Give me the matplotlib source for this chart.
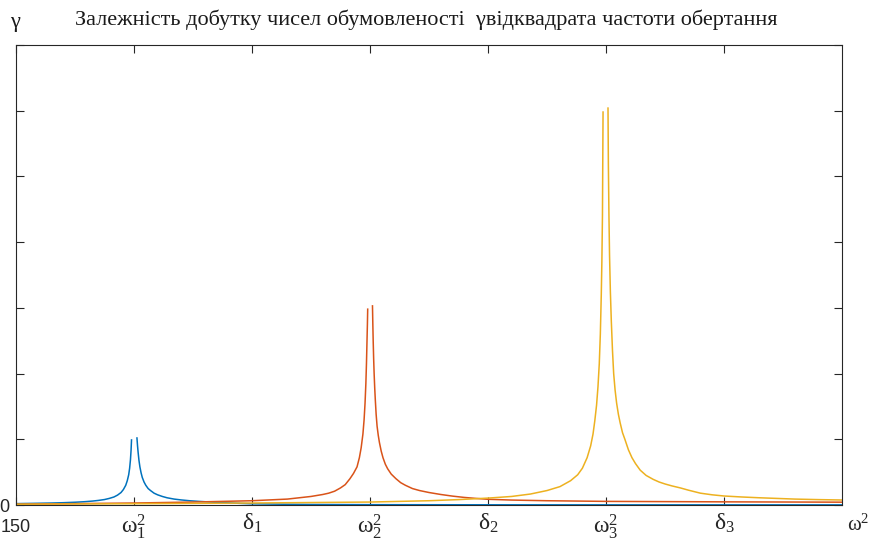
import numpy as np
import matplotlib.pyplot as plt

# Залежність добутку чисел обумовленості від квадрата частоти обертання
# значення (x у поділках осі, NaN - розрив у резонансі)

blue_x = [0.0, 0.15, 0.3, 0.4, 0.5, 0.58, 0.65, 0.7, 0.75, 0.79, 0.83, 0.86, 0.89,
          0.91, 0.93, 0.943, 0.955, 0.963, 0.97, 0.975, 0.979, 1.0,
          1.025, 1.03, 1.035, 1.042, 1.05, 1.06, 1.07, 1.085, 1.1, 1.12, 1.14, 1.17,
          1.2, 1.24, 1.28, 1.34, 1.4, 1.47, 1.55, 1.65, 1.75, 1.87, 2.0, 2.25, 2.5,
          3.0, 4.0, 5.0, 6.0, 7.0]
blue_y = [0.021, 0.025, 0.03, 0.035, 0.042, 0.05, 0.06, 0.07, 0.083, 0.1, 0.122, 0.15, 0.19,
          0.235, 0.30, 0.37, 0.46, 0.56, 0.69, 0.83, 0.99, np.nan,
          1.02, 0.9, 0.8, 0.68, 0.58, 0.49, 0.42, 0.35, 0.3, 0.25, 0.22, 0.18,
          0.155, 0.13, 0.11, 0.09, 0.077, 0.065, 0.055, 0.045, 0.036, 0.027, 0.018, 0.012, 0.008,
          0.005, 0.003, 0.002, 0.002, 0.002]

red_x = [0.0, 1.0, 1.5, 2.0, 2.3, 2.5, 2.6, 2.65, 2.7, 2.75, 2.79, 2.83, 2.86, 2.89,
         2.91, 2.925, 2.94, 2.95, 2.958, 2.965, 2.97, 2.974, 2.978, 2.9805, 3.0,
         3.021, 3.024, 3.027, 3.031, 3.035, 3.04, 3.045, 3.052, 3.06, 3.07, 3.08,
         3.095, 3.11, 3.13, 3.15, 3.18, 3.22, 3.26, 3.3, 3.36, 3.42, 3.5, 3.6, 3.7,
         3.8, 3.9, 4.0, 4.2, 4.5, 5.0, 6.0, 7.0]
red_y = [0.012, 0.03, 0.045, 0.065, 0.09, 0.13, 0.16, 0.18, 0.21, 0.26, 0.31, 0.4, 0.48, 0.58,
         0.72, 0.87, 1.08, 1.3, 1.55, 1.85, 2.15, 2.45, 2.75, 2.98, np.nan,
         3.03, 2.75, 2.5, 2.22, 2.0, 1.78, 1.6, 1.38, 1.2, 1.06, 0.95,
         0.82, 0.72, 0.62, 0.55, 0.47, 0.4, 0.34, 0.3, 0.25, 0.22, 0.19, 0.16, 0.135,
         0.115, 0.1, 0.087, 0.075, 0.065, 0.055, 0.048, 0.043]

yellow_x = [0.0, 1.0, 2.0, 3.0, 3.5, 3.75, 4.0, 4.2, 4.36, 4.5, 4.61, 4.7, 4.76, 4.8,
            4.84, 4.87, 4.89, 4.905, 4.92, 4.932, 4.943, 4.952, 4.96, 4.965, 4.97,
            4.975, 5.0,
            5.017, 5.02, 5.025, 5.03, 5.037, 5.045, 5.055, 5.065, 5.077, 5.09, 5.105,
            5.12, 5.14, 5.16, 5.19, 5.22, 5.25, 5.29, 5.34, 5.4, 5.45, 5.5, 5.56, 5.63,
            5.7, 5.8, 5.9, 6.0, 6.15, 6.3, 6.45, 6.6, 6.8, 7.0]
yellow_y = [0.012, 0.02, 0.03, 0.045, 0.065, 0.082, 0.105, 0.13, 0.167, 0.22, 0.28, 0.37, 0.46, 0.56,
            0.72, 0.9, 1.08, 1.28, 1.52, 1.8, 2.15, 2.6, 3.2, 3.7, 4.4,
            5.98, np.nan,
            6.04, 5.2, 4.4, 3.8, 3.25, 2.8, 2.35, 2.0, 1.75, 1.55, 1.38,
            1.25, 1.1, 1.0, 0.84, 0.72, 0.63, 0.53, 0.45, 0.39, 0.35, 0.32, 0.29, 0.26,
            0.225, 0.18, 0.155, 0.137, 0.122, 0.11, 0.1, 0.09, 0.082, 0.076]

xtick_pos = [0, 1, 2, 3, 4, 5, 6]
xtick_labels = ['150', r'$\mathrm{ω}_1^2$', r'$\mathrm{δ}_1$', r'$\mathrm{ω}_2^2$',
                r'$\mathrm{δ}_2$', r'$\mathrm{ω}_3^2$', r'$\mathrm{δ}_3$']
ytick_pos = [0, 1, 2, 3, 4, 5, 6, 7]
ytick_labels = ['0', '', '', '', '', '', '', '']

title = 'Залежність добутку чисел обумовленості  γвідквадрата частоти обертання'

plt.rcParams['font.family'] = ['Liberation Sans', 'DejaVu Sans']
plt.rcParams['mathtext.fontset'] = 'custom'
plt.rcParams['mathtext.rm'] = 'Liberation Serif'
plt.rcParams['mathtext.it'] = 'Liberation Serif:italic'

fig = plt.figure(figsize=(8.7, 5.44), dpi=100)
ax = fig.add_axes([16 / 870, 39 / 544, 826 / 870, 460 / 544])

ax.plot(blue_x, blue_y, color='#0072BD', lw=1.1)
ax.plot(red_x, red_y, color='#D95319', lw=1.1)
ax.plot(yellow_x, yellow_y, color='#EDB120', lw=1.1)

ax.set_xlim(0, 7)
ax.set_ylim(0, 7)
ax.set_xticks(xtick_pos)
ax.set_xticklabels(xtick_labels)
ax.set_yticks(ytick_pos)
ax.set_yticklabels(ytick_labels)

ax.tick_params(direction='in', length=5.5, width=0.8, colors='#262626',
               top=True, right=True)
ax.tick_params(axis='x', pad=5, labelsize=17)
ax.tick_params(axis='y', pad=4.5, labelsize=13)
ax.xaxis.get_major_ticks()[0].set_pad(10)
ax.get_xticklabels()[0].set_fontsize(13)
for s in ax.spines.values():
    s.set_color('#262626')
    s.set_linewidth(0.8)

ax.text(831 / 826, -9 / 460, r'$\mathrm{ω}^2$', transform=ax.transAxes, fontsize=15,
        ha='left', va='top', color='#262626')

fig.text(75 / 870, 1 - 20 / 544, title, family=['Liberation Serif', 'DejaVu Serif'],
         fontsize=16, ha='left', va='center', color='#1a1a1a')
fig.text(10 / 870, 1 - 23 / 544, 'γ', family=['Liberation Serif', 'DejaVu Serif'],
         fontsize=16, ha='left', va='center', color='#1a1a1a')

fig.savefig('out.png', dpi=100)
